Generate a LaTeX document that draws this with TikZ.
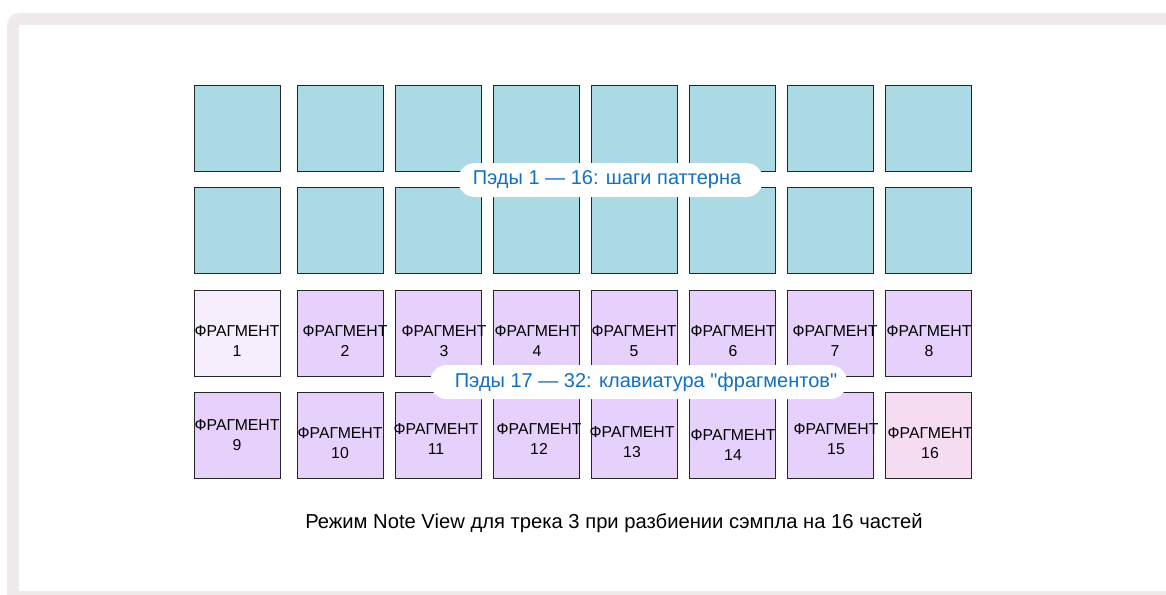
\documentclass[tikz,border=0pt]{standalone}
\usepackage{fontspec}
\setmainfont{Liberation Sans}[Ligatures=TeXOff]
\definecolor{framegray}{HTML}{EFEBEB}
\definecolor{padblue}{HTML}{ABDAE4}
\definecolor{padpurple}{HTML}{E6D1FC}
\definecolor{padlight}{HTML}{F6EEFD}
\definecolor{padpink}{HTML}{F5DCF0}
\definecolor{labelblue}{HTML}{1270C0}
\begin{document}
\begin{tikzpicture}[x=1pt,y=-1pt,
  pad/.style={draw=black!85,line width=0.8pt,minimum width=86pt,minimum height=86pt,inner sep=0pt,outer sep=0pt},
  padtext/.style={font=\fontsize{15.8}{19.5}\selectfont,align=center,inner sep=0pt,text=black},
  pill/.style={fill=white,rounded corners=17pt,minimum height=34pt,inner sep=0pt},
  pilltext/.style={inner sep=0pt,text=labelblue,font=\fontsize{20}{22}\selectfont},
  caption/.style={font=\fontsize{20.2}{22}\selectfont,inner sep=0pt,text=black}]
\useasboundingbox (0,0) rectangle (1166,594);
\begin{scope}
\clip (0,0) rectangle (1166,594);
\fill[framegray,rounded corners=12pt] (7,13) rectangle (1200,620);
\fill[white] (19,25) rectangle (1200,591);
\end{scope}
% rows 1 and 2: blue pads
\foreach \x [count=\i] in {237,340,438,536,634,732,830,928} {
  \node[pad,fill=padblue] (a\i) at (\x,128) {};
  \node[pad,fill=padblue] (b\i) at (\x,230) {};
}
% row 3
\node[pad,fill=padlight] (p1) at (237,333) {};
\foreach \x [count=\i from 2] in {340,438,536,634,732,830,928} {
  \node[pad,fill=padpurple] (p\i) at (\x,333) {};
}
% row 4
\foreach \x [count=\i from 9] in {237,340,438,536,634,732,830} {
  \node[pad,fill=padpurple] (p\i) at (\x,435) {};
}
\node[pad,fill=padpink] (p16) at (928,435) {};
% texts row 3
\foreach \x/\n in {237/1,345/2,444/3,537/4,634/5,733/6,835/7,929/8} {
  \node[padtext] (t\n) at (\x,341) {ФРАГМЕНТ\\\n};
}
% texts row 4
\foreach \x/\y/\n in {237/435/9,340/443/10,436/439/11,539/439/12,632/442/13,733/445/14,836/439/15,930/443/16} {
  \node[padtext] (t\n) at (\x,\y) {ФРАГМЕНТ\\\n};
}
% labels
\node[pill,minimum width=305pt] (l1) at (610.5,180) {};
\node[pilltext] (l1t) at (607,180) {Пэды 1 — 16: шаги паттерна};
\node[pill,minimum width=417pt] (l2) at (638.5,382) {};
\node[pilltext] (l2t) at (646,382) {Пэды 17 — 32: клавиатура "фрагментов"};
% caption
\node[caption] (cap) at (614,523) {Режим Note View для трека 3 при разбиении сэмпла на 16 частей};
\end{tikzpicture}
\end{document}
